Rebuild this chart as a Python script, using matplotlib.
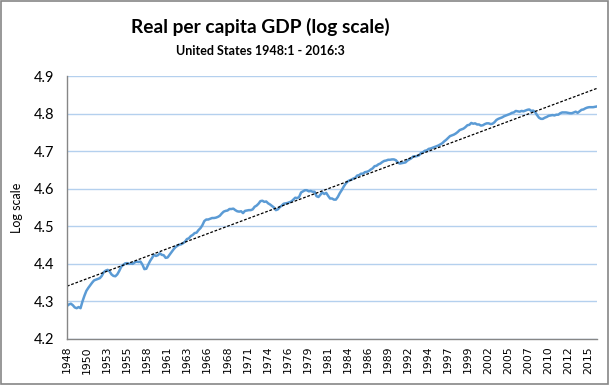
import numpy as np
import matplotlib.pyplot as plt
from matplotlib.patches import Rectangle

# log10 real per capita GDP, quarterly 1948:1 - 2016:3
gdp_log = [
    4.288, 4.292, 4.294, 4.290,  # 1948
    4.284, 4.282, 4.285, 4.282,  # 1949
    4.300, 4.315, 4.328, 4.336,  # 1950
    4.343, 4.350, 4.356, 4.358,  # 1951
    4.360, 4.362, 4.368, 4.378,  # 1952
    4.382, 4.384, 4.380, 4.372,  # 1953
    4.368, 4.367, 4.372, 4.381,  # 1954
    4.392, 4.397, 4.401, 4.402,  # 1955
    4.400, 4.401, 4.400, 4.404,  # 1956
    4.406, 4.405, 4.406, 4.398,  # 1957
    4.386, 4.387, 4.398, 4.408,  # 1958
    4.416, 4.424, 4.421, 4.423,  # 1959
    4.428, 4.424, 4.423, 4.416,  # 1960
    4.417, 4.424, 4.431, 4.438,  # 1961
    4.444, 4.448, 4.451, 4.452,  # 1962
    4.455, 4.459, 4.466, 4.468,  # 1963
    4.474, 4.477, 4.482, 4.483,  # 1964
    4.490, 4.495, 4.503, 4.514,  # 1965
    4.518, 4.518, 4.520, 4.522,  # 1966
    4.522, 4.523, 4.525, 4.528,  # 1967
    4.534, 4.539, 4.541, 4.542,  # 1968
    4.546, 4.546, 4.547, 4.543,  # 1969
    4.540, 4.539, 4.540, 4.535,  # 1970
    4.541, 4.542, 4.543, 4.543,  # 1971
    4.545, 4.552, 4.555, 4.560,  # 1972
    4.567, 4.568, 4.565, 4.566,  # 1973
    4.561, 4.558, 4.554, 4.550,  # 1974
    4.543, 4.545, 4.551, 4.555,  # 1975
    4.560, 4.561, 4.562, 4.564,  # 1976
    4.566, 4.571, 4.576, 4.575,  # 1977
    4.578, 4.590, 4.593, 4.596,  # 1978
    4.596, 4.593, 4.594, 4.592,  # 1979
    4.592, 4.580, 4.578, 4.584,  # 1980
    4.590, 4.586, 4.589, 4.581,  # 1981
    4.574, 4.574, 4.571, 4.571,  # 1982
    4.578, 4.588, 4.596, 4.605,  # 1983
    4.613, 4.619, 4.622, 4.624,  # 1984
    4.627, 4.629, 4.635, 4.636,  # 1985
    4.640, 4.640, 4.644, 4.645,  # 1986
    4.647, 4.651, 4.654, 4.660,  # 1987
    4.661, 4.665, 4.667, 4.671,  # 1988
    4.674, 4.675, 4.677, 4.677,  # 1989
    4.678, 4.678, 4.676, 4.670,  # 1990
    4.667, 4.668, 4.669, 4.670,  # 1991
    4.675, 4.678, 4.681, 4.686,  # 1992
    4.686, 4.687, 4.689, 4.695,  # 1993
    4.697, 4.701, 4.702, 4.706,  # 1994
    4.707, 4.709, 4.711, 4.713,  # 1995
    4.715, 4.718, 4.721, 4.726,  # 1996
    4.730, 4.735, 4.740, 4.742,  # 1997
    4.744, 4.747, 4.751, 4.756,  # 1998
    4.758, 4.760, 4.764, 4.769,  # 1999
    4.770, 4.775, 4.773, 4.774,  # 2000
    4.771, 4.771, 4.768, 4.769,  # 2001
    4.772, 4.774, 4.774, 4.772,  # 2002
    4.773, 4.777, 4.783, 4.786,  # 2003
    4.788, 4.790, 4.793, 4.795,  # 2004
    4.797, 4.799, 4.802, 4.803,  # 2005
    4.807, 4.806, 4.805, 4.807,  # 2006
    4.806, 4.808, 4.810, 4.811,  # 2007
    4.807, 4.808, 4.804, 4.796,  # 2008
    4.789, 4.786, 4.786, 4.789,  # 2009
    4.791, 4.794, 4.795, 4.796,  # 2010
    4.795, 4.797, 4.797, 4.801,  # 2011
    4.803, 4.803, 4.803, 4.802,  # 2012
    4.801, 4.801, 4.803, 4.805,  # 2013
    4.802, 4.806, 4.810, 4.811,  # 2014
    4.814, 4.816, 4.817, 4.817,  # 2015
    4.817, 4.818, 4.819,         # 2016
]

tick_labels = ['1948', '1950', '1953', '1955', '1958', '1961', '1963', '1966',
               '1968', '1971', '1974', '1976', '1979', '1981', '1984', '1986',
               '1989', '1992', '1994', '1997', '1999', '2002', '2005', '2007',
               '2010', '2012', '2015']

y_ticks = [4.2, 4.3, 4.4, 4.5, 4.6, 4.7, 4.8, 4.9]

x = np.arange(len(gdp_log))
y = np.array(gdp_log)

# linear trend like Excel's trendline
coef = np.polyfit(x, y, 1)
trend = np.polyval(coef, x)

fig = plt.figure(figsize=(6.12, 3.85), dpi=100)
ax = fig.add_axes([67 / 612, 1 - 339 / 385, 530 / 612, 263 / 385])

# grid
ax.set_axisbelow(True)
ax.yaxis.grid(color='#b4d0ee', linewidth=1.0)
ax.set_yticks(y_ticks)
ax.set_ylim(4.2, 4.9)
ax.set_yticklabels(['{:.1f}'.format(v) for v in y_ticks], fontsize=10.5, family='Lato')

ax.plot(x, y, color='#5b9bd5', linewidth=1.8, solid_joinstyle='round')
ax.plot(x, trend, color='black', linewidth=0.9, linestyle=(0, (2.2, 1.4)))

ax.set_xlim(0, len(gdp_log) - 1)
ax.set_xticks(np.arange(len(tick_labels)) * 10.36)
ax.set_xticklabels(tick_labels, rotation=90, fontsize=7.8, family='DejaVu Sans')
ax.tick_params(length=0, pad=9)
ax.tick_params(axis='x', pad=5)

for side in ['top', 'right']:
    ax.spines[side].set_visible(False)
for side in ['left', 'bottom']:
    ax.spines[side].set_color('#868686')
    ax.spines[side].set_linewidth(1.0)

ax.set_ylabel('Log scale', fontsize=9, family='Lato', labelpad=8)

fig.text(0.4257, 1 - 27 / 385, 'Real per capita GDP (log scale)', ha='center', va='center',
         fontsize=13.8, fontweight='bold', family='Lato')
fig.text(0.4257, 1 - 51 / 385, 'United States 1948:1 - 2016:3', ha='center', va='center',
         fontsize=9, fontweight='bold', family='Lato')

# chart border
fig.patches.append(Rectangle((0.001, 0.002), 607 / 612, 0.995, transform=fig.transFigure,
                             fill=False, edgecolor='#868686', linewidth=1.2))

fig.savefig('out.png', dpi=100)
